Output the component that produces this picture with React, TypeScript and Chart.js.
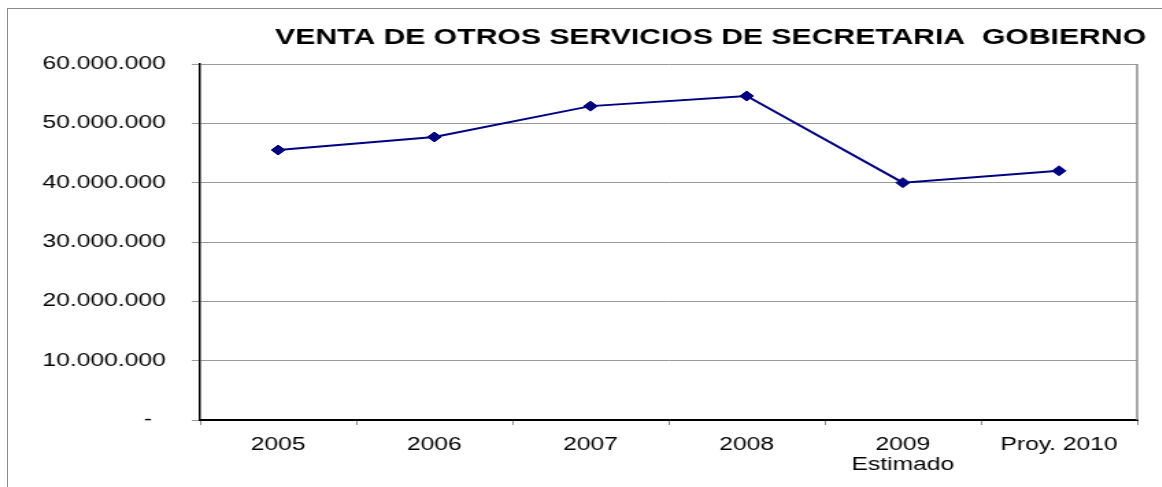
import React, { useEffect, useRef } from 'react';
import Chart from 'chart.js/auto';

const TITLE = 'VENTA DE OTROS SERVICIOS DE SECRETARIA  GOBIERNO';
const categories: (string | string[])[] = ['2005', '2006', '2007', '2008', ['2009', 'Estimado'], 'Proy. 2010'];
const ventas = [45500000, 47700000, 52900000, 54600000, 40000000, 42000000];
const yMin = 0;
const yMax = 60000000;
const yStep = 10000000;
const zeroLabel = '-  ';

const STRETCH = 1.37;
const W = 1162;
const H = 487;
const FONT = '"Liberation Sans", Arial, Helvetica, sans-serif';

function fmt(v: number): string {
  if (v === 0) return zeroLabel;
  return Math.round(v).toString().replace(/\B(?=(\d{3})+(?!\d))/g, '.');
}

const framePlugin = {
  id: 'framePlugin',
  beforeDatasetsDraw(chart: any) {
    const { ctx, chartArea } = chart;
    ctx.save();
    ctx.strokeStyle = '#8c8c8c';
    ctx.lineWidth = 1.5;
    ctx.beginPath();
    ctx.moveTo(chartArea.right, chartArea.top);
    ctx.lineTo(chartArea.right, chartArea.bottom);
    ctx.stroke();
    ctx.restore();
  },
  afterDraw(chart: any) {
    const { ctx, chartArea } = chart;
    ctx.save();
    ctx.font = 'bold 22px ' + FONT;
    ctx.fillStyle = '#000000';
    ctx.textAlign = 'right';
    ctx.textBaseline = 'middle';
    ctx.fillText(TITLE, chartArea.right + 6.5, 38);
    ctx.restore();
  },
};

export default function App() {
  const ref = useRef<HTMLCanvasElement | null>(null);
  useEffect(() => {
    if (!ref.current) return;
    const chart = new Chart(ref.current, {
      type: 'line',
      data: {
        labels: categories,
        datasets: [
          {
            label: 'Venta',
            data: ventas,
            borderColor: '#000080',
            backgroundColor: '#000080',
            borderWidth: 2,
            pointStyle: 'rectRot',
            pointRadius: 5,
            pointBorderWidth: 1,
            pointBackgroundColor: '#000080',
            pointBorderColor: '#000080',
            tension: 0,
            fill: false,
          },
        ],
      },
      options: {
        animation: false,
        responsive: true,
        maintainAspectRatio: false,
        layout: { padding: { top: 64, right: 18, left: 0, bottom: 0 } },
        plugins: {
          legend: { display: false },
          title: { display: false },
          tooltip: { enabled: false },
        },
        scales: {
          x: {
            type: 'category',
            offset: true,
            afterFit: (scale: any) => {
              scale.height = 67;
            },
            grid: {
              offset: true,
              drawOnChartArea: false,
              drawTicks: true,
              tickLength: 5,
              color: '#8c8c8c',
              lineWidth: 1,
            },
            border: { display: true, color: '#000000', width: 2 },
            ticks: {
              color: '#000000',
              font: { family: FONT, size: 18, lineHeight: 1.1 },
              padding: 10,
              maxRotation: 0,
              autoSkip: false,
            },
          },
          y: {
            min: yMin,
            max: yMax,
            afterFit: (scale: any) => {
              scale.width = 146;
            },
            grid: {
              color: '#9a9a9a',
              lineWidth: 1,
              drawTicks: true,
              tickLength: 6,
            },
            border: { display: true, color: '#000000', width: 1.5 },
            ticks: {
              stepSize: yStep,
              color: '#000000',
              font: { family: FONT, size: 18 },
              padding: 19,
              callback: (v: any) => fmt(Number(v)),
            },
          },
        },
      },
      plugins: [framePlugin],
    });
    return () => chart.destroy();
  }, []);

  return (
    <div style={{ position: 'absolute', left: 0, top: 0, width: W, height: H, overflow: 'hidden', background: '#ffffff' }}>
      <div
        style={{
          position: 'absolute',
          left: 7,
          top: 8,
          width: W,
          height: H,
          borderLeft: '1px solid #8c8c8c',
          borderTop: '1px solid #8c8c8c',
        }}
      />
      <div
        style={{
          position: 'absolute',
          left: 0,
          top: 0,
          width: Math.round(W / STRETCH),
          height: H,
          transform: `scaleX(${STRETCH})`,
          transformOrigin: '0 0',
        }}
      >
        <canvas ref={ref} style={{ display: 'block' }} />
      </div>
    </div>
  );
}
